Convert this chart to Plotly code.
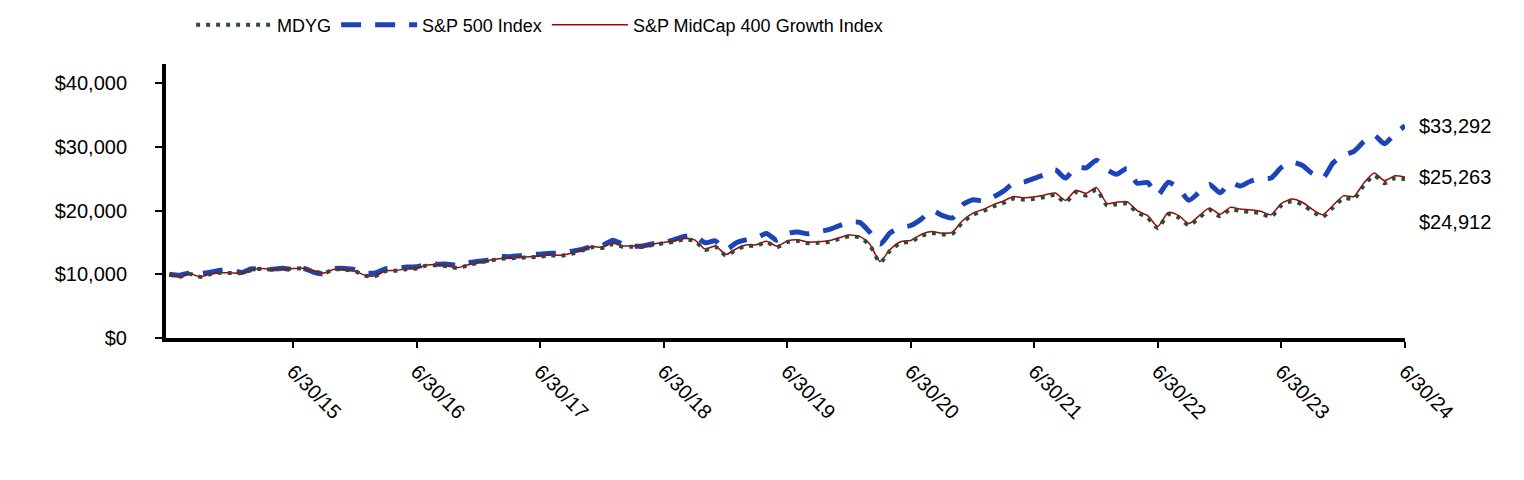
import pandas as pd
import plotly.graph_objects as go

dates = pd.date_range("2014-06-30", periods=121, freq="ME")

tick_dates = ["2015-06-30", "2016-06-30", "2017-06-30", "2018-06-30", "2019-06-30",
              "2020-06-30", "2021-06-30", "2022-06-30", "2023-06-30", "2024-06-30"]
tick_text = ["6/30/15", "6/30/16", "6/30/17", "6/30/18", "6/30/19",
             "6/30/20", "6/30/21", "6/30/22", "6/30/23", "6/30/24"]

y_ticks = [0, 10000, 20000, 30000, 40000]
y_tick_text = ["$0", "$10,000", "$20,000", "$30,000", "$40,000"]

sp500 = [10000, 9860, 10250, 10110, 10350, 10630, 10600, 10280, 10870, 10700, 10800, 10940,
         10730, 10960, 10300, 10040, 10890, 10920, 10750, 10210, 10200, 10890, 10940, 11130,
         11170, 11580, 11590, 11590, 11380, 11800, 12040, 12270, 12760, 12770, 12900, 13080,
         13160, 13300, 13350, 13600, 13900, 14350, 14500, 15350, 14750, 14400, 14450, 14800,
         14900, 15450, 15950, 16050, 14950, 15250, 13850, 14950, 15400, 15700, 16400, 15350,
         16400, 16650, 16350, 16650, 17000, 17600, 18150, 18150, 16650, 14700, 16500, 17300,
         17650, 18650, 20000, 19250, 18850, 20900, 21700, 21500, 22100, 23050, 24300, 24500,
         25050, 25650, 26400, 25100, 26800, 26700, 27900, 26400, 25700, 26600, 24300, 24400,
         22400, 24450, 23450, 21600, 22900, 24100, 22800, 24400, 23850, 24600, 25000, 25100,
         26750, 27600, 27100, 25800, 25100, 27450, 28700, 29300, 30800, 31800, 30500, 32050,
         33292]

midcap = [10000, 9600, 10050, 9600, 10050, 10250, 10200, 10200, 10700, 10900, 10750, 10850,
          10900, 10950, 10500, 10200, 10800, 10750, 10500, 9800, 9750, 10550, 10600, 10850,
          10950, 11450, 11450, 11300, 11050, 11500, 11900, 12200, 12450, 12600, 12650, 12750,
          12850, 13050, 13000, 13300, 13800, 14350, 14250, 14850, 14450, 14450, 14400, 14750,
          15000, 15250, 15600, 15400, 13950, 14450, 13100, 14000, 14600, 14620, 15200, 14400,
          15200, 15400, 15050, 15100, 15250, 15700, 16150, 15950, 14800, 12000, 13900, 15100,
          15300, 16250, 16700, 16450, 16600, 18400, 19600, 20200, 20900, 21500, 22200, 22000,
          22150, 22450, 22750, 21600, 23200, 22700, 23600, 21100, 21300, 21400, 20000, 19200,
          17500, 19700, 19200, 17950, 19200, 20400, 19400, 20500, 20250, 20100, 19900, 19340,
          21100, 21800, 21300, 20200, 19340, 20800, 22300, 22200, 24300, 25900, 24700, 25450,
          25263]

mdyg = [10000, 9600, 10040, 9590, 10040, 10240, 10190, 10190, 10690, 10880, 10730, 10830,
        10870, 10920, 10470, 10170, 10770, 10720, 10460, 9760, 9710, 10510, 10560, 10800,
        10900, 11400, 11400, 11240, 10990, 11440, 11830, 12130, 12380, 12520, 12570, 12670,
        12760, 12960, 12910, 13200, 13700, 14240, 14140, 14730, 14330, 14330, 14280, 14620,
        14870, 15110, 15460, 15260, 13820, 14310, 12970, 13860, 14450, 14470, 15040, 14250,
        15040, 15230, 14880, 14930, 15080, 15520, 15960, 15760, 14620, 11850, 13730, 14910,
        15110, 16040, 16490, 16240, 16380, 18160, 19350, 19930, 20620, 21210, 21900, 21700,
        21840, 22130, 22430, 21290, 22870, 22370, 23260, 20790, 20990, 21080, 19700, 18910,
        17230, 19400, 18910, 17670, 18900, 20090, 19100, 20180, 19930, 19780, 19580, 19030,
        20770, 21450, 20960, 19870, 19030, 20460, 21940, 21840, 23910, 25480, 24300, 25050,
        24912]

end_labels = ["$33,292", "$25,263", "$24,912"]

FONT = "Arial, Liberation Sans, sans-serif"

fig = go.Figure()
fig.add_trace(go.Scatter(x=dates, y=sp500, name="S&P 500 Index", mode="lines",
                         line=dict(color="#1C44B8", width=5, dash="20px,14px", shape="spline", smoothing=0.6),
                         legendrank=2))
fig.add_trace(go.Scatter(x=dates, y=midcap, name="S&P MidCap 400 Growth Index", mode="lines",
                         line=dict(color="#B00000", width=1.5, shape="spline", smoothing=0.6),
                         legendrank=3))
fig.add_trace(go.Scatter(x=dates, y=mdyg, name="MDYG", mode="lines",
                         line=dict(color="#2E4A3F", width=4, dash="4px,6px", shape="spline", smoothing=0.6),
                         legendrank=1))

fig.add_annotation(x=dates[-1], y=sp500[-1], text=end_labels[0], showarrow=False,
                   xanchor="left", yanchor="middle", xshift=12)
fig.add_annotation(x=dates[-1], y=midcap[-1], text=end_labels[1], showarrow=False,
                   xanchor="left", yanchor="middle", xshift=12)
fig.add_annotation(x=dates[-1], y=mdyg[-1], text=end_labels[2], showarrow=False,
                   xanchor="left", yanchor="middle", xshift=12, yshift=-43)

fig.update_layout(
    width=1524, height=480,
    margin=dict(l=166, r=119, t=64, b=142, autoexpand=False),
    paper_bgcolor="white", plot_bgcolor="white",
    font=dict(family=FONT, size=20, color="black"),
    showlegend=True,
    legend=dict(orientation="h", xref="container", yref="container",
                x=0.1254, xanchor="left", y=0.948, yanchor="middle",
                itemwidth=76,
                font=dict(size=18, family=FONT), bgcolor="rgba(0,0,0,0)"),
    xaxis=dict(type="date", range=["2014-06-20", "2024-06-30"],
               tickvals=tick_dates, ticktext=tick_text, tickangle=45,
               ticks="outside", ticklen=6, tickwidth=2, tickcolor="black",
               showline=True, linewidth=4, linecolor="black",
               showgrid=False, zeroline=False, ticklabelstandoff=4,
               tickfont=dict(size=20, family=FONT)),
    yaxis=dict(range=[0, 43000], tickvals=y_ticks, ticktext=y_tick_text,
               ticks="outside", ticklen=7, tickwidth=2, tickcolor="black",
               showline=True, linewidth=4, linecolor="black",
               showgrid=False, zeroline=False, ticklabelstandoff=24,
               tickfont=dict(size=20, family=FONT)),
)

fig.write_html("out.html", config={"displayModeBar": False},
               post_script="document.body.style.margin='0';")
